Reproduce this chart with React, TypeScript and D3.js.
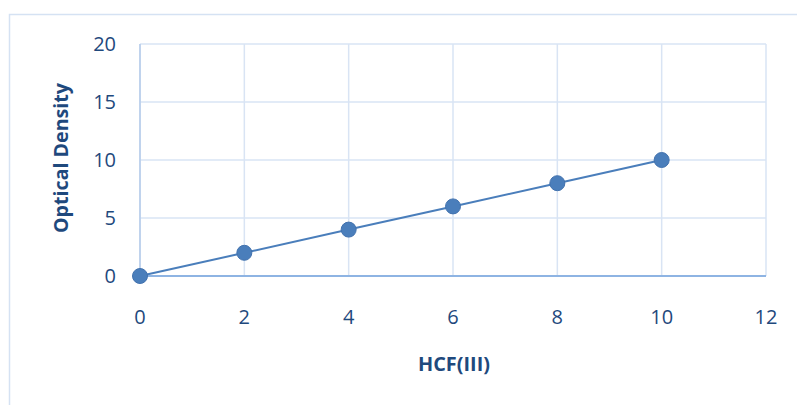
import React from "react";
import * as d3 from "d3";

const xValues = [0, 2, 4, 6, 8, 10];
const yValues = [0, 2, 4, 6, 8, 10];
const xTicks = [0, 2, 4, 6, 8, 10, 12];
const yTicks = [0, 5, 10, 15, 20];
const xTitle = "HCF(III)";
const yTitle = "Optical Density";

export default function App() {
  const W = 797, H = 405;
  const x = d3.scaleLinear().domain([0, 12]).range([140, 766]);
  const y = d3.scaleLinear().domain([0, 20]).range([276, 44]);
  const pts = xValues.map((v, i) => [x(v), y(yValues[i])] as [number, number]);
  const line = d3.line()(pts) || "";
  const font = "'Open Sans', sans-serif";
  const txt = "#1f497d";
  const grid = "#d9e4f4";
  return (
    <svg width={W} height={H} style={{ position: "absolute", left: 0, top: 0 }}>
      <rect x={0} y={0} width={W} height={H} fill="#fff" />
      <rect x={9.5} y={14.5} width={W + 10} height={H + 10} fill="none" stroke="#d5e2f3" strokeWidth={1.5} />
      {xTicks.map((t) => (
        <line key={"gx" + t} x1={x(t)} x2={x(t)} y1={y(20)} y2={y(0)} stroke={grid} strokeWidth={1.5} />
      ))}
      {yTicks.map((t) => (
        <line key={"gy" + t} x1={x(0)} x2={x(12)} y1={y(t)} y2={y(t)} stroke={grid} strokeWidth={1.5} />
      ))}
      <line x1={x(0)} x2={x(0)} y1={y(20)} y2={y(0)} stroke="#b4cbea" strokeWidth={1.5} />
      <line x1={x(0)} x2={x(12)} y1={y(0)} y2={y(0)} stroke="#8eb4e3" strokeWidth={2} />
      {yTicks.map((t) => (
        <text key={"yt" + t} x={116} y={y(t)} dy="0.35em" textAnchor="end" fontFamily={font} fontSize={20} fill={txt}>{t}</text>
      ))}
      {xTicks.map((t) => (
        <text key={"xt" + t} x={x(t)} y={317} dy="0.35em" textAnchor="middle" fontFamily={font} fontSize={20} fill={txt}>{t}</text>
      ))}
      <path d={line} fill="none" stroke="#4a7ebb" strokeWidth={2} />
      {pts.map((p, i) => (
        <circle key={i} cx={p[0]} cy={p[1]} r={7.5} fill="#4a7ebb" stroke="#4272ae" strokeWidth={1} />
      ))}
      <text x={454} y={364} dy="0.35em" textAnchor="middle" fontFamily={font} fontWeight="bold" fontSize={19} fill={txt} textLength={72} lengthAdjust="spacingAndGlyphs">{xTitle}</text>
      <text transform={`translate(61,158) rotate(-90)`} dy="0.35em" textAnchor="middle" fontFamily={font} fontWeight="bold" fontSize={19} fill={txt} textLength={150} lengthAdjust="spacingAndGlyphs">{yTitle}</text>
    </svg>
  );
}
